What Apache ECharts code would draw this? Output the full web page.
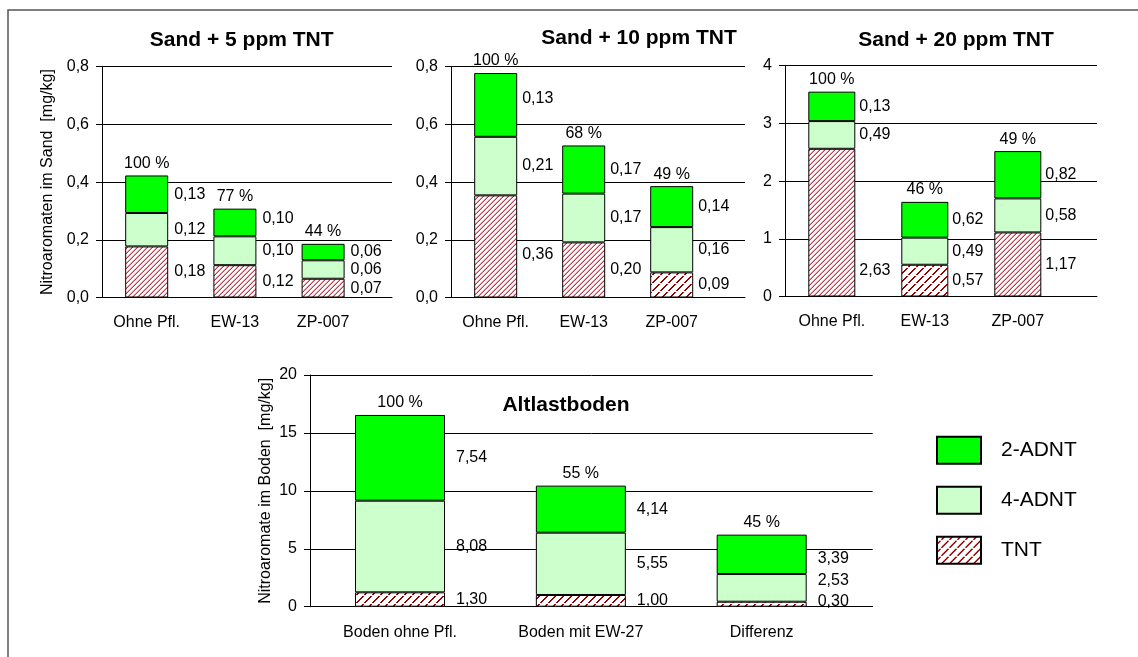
<!DOCTYPE html>
<html>
<head>
<meta charset="utf-8">
<script src="https://cdn.jsdelivr.net/npm/echarts@6/dist/echarts.min.js"></script>
<style>
html,body{margin:0;padding:0;background:#fff;}
#chart{width:1138px;height:657px;}
</style>
</head>
<body>
<div id="chart"></div>
<script>
// ---------------- DATA ----------------
const categoriesSand = ['Ohne Pfl.', 'EW-13', 'ZP-007'];
const categoriesBoden = ['Boden ohne Pfl.', 'Boden mit EW-27', 'Differenz'];
const seriesNames = ['TNT', '4-ADNT', '2-ADNT'];

// Sand + 5 ppm TNT (bar heights as drawn, and printed labels)
const tnt5 = [0.177, 0.112, 0.065];
const adnt4_5 = [0.116, 0.100, 0.064];
const adnt2_5 = [0.130, 0.096, 0.057];
const tnt5Labels = [0.18, 0.12, 0.07];
const adnt4_5Labels = [0.12, 0.10, 0.06];
const adnt2_5Labels = [0.13, 0.10, 0.06];
const pct5 = [100, 77, 44];

// Sand + 10 ppm TNT
const tnt10 = [0.354, 0.191, 0.087];
const adnt4_10 = [0.203, 0.169, 0.157];
const adnt2_10 = [0.221, 0.167, 0.142];
const tnt10Labels = [0.36, 0.20, 0.09];
const adnt4_10Labels = [0.21, 0.17, 0.16];
const adnt2_10Labels = [0.13, 0.17, 0.14];
const pct10 = [100, 68, 49];

// Sand + 20 ppm TNT
const tnt20 = [2.56, 0.55, 1.11];
const adnt4_20 = [0.48, 0.47, 0.59];
const adnt2_20 = [0.51, 0.62, 0.82];
const tnt20Labels = [2.63, 0.57, 1.17];
const adnt4_20Labels = [0.49, 0.49, 0.58];
const adnt2_20Labels = [0.13, 0.62, 0.82];
const pct20 = [100, 46, 49];

// Altlastboden
const tntBoden = [1.24, 1.01, 0.43];
const adnt4Boden = [7.91, 5.38, 2.39];
const adnt2Boden = [7.40, 4.06, 3.40];
const tntBodenLabels = [1.30, 1.00, 0.30];
const adnt4BodenLabels = [8.08, 5.55, 2.53];
const adnt2BodenLabels = [7.54, 4.14, 3.39];
const pctBoden = [100, 55, 45];

// Axis ranges
const yMax = [0.8, 0.8, 4, 20];
const yInterval = [0.2, 0.2, 1, 5];
const yDecimals = [1, 1, 0, 0];
const titles = ['Sand + 5 ppm TNT', 'Sand + 10 ppm TNT', 'Sand + 20 ppm TNT', 'Altlastboden'];
const yNames = ['Nitroaromaten im Sand  [mg/kg]', '', '', 'Nitroaromate im Boden  [mg/kg]'];

// ---------------- STYLE / LAYOUT ----------------
const FONT = '"Liberation Sans", Arial, sans-serif';
const C2 = '#00FF00', C4 = '#CCFFCC';

function makeHatch(size, fn) {
  const c = document.createElement('canvas');
  c.width = size; c.height = size;
  const ctx = c.getContext('2d');
  ctx.fillStyle = '#ffffff';
  ctx.fillRect(0, 0, size, size);
  for (let y = 0; y < size; y++) for (let x = 0; x < size; x++) {
    const col = fn(x, y);
    if (col) { ctx.fillStyle = col; ctx.fillRect(x, y, 1, 1); }
  }
  return c;
}
const denseHatch = { image: makeHatch(5, (x, y) => {
  const k = (x + y) % 5;
  return k === 4 ? '#cc3344' : (k === 3 ? '#eea0a8' : null);
}), repeat: 'repeat' };
const sparseHatch = { image: makeHatch(8, (x, y) => {
  const k = (x + y) % 8;
  if ((k === 7 || k === 6) && (y % 8 !== 3)) return '#990000';
  return null;
}), repeat: 'repeat' };

const panels = [
  { cats: categoriesSand, tnt: tnt5, a4: adnt4_5, a2: adnt2_5, lt: tnt5Labels, l4: adnt4_5Labels, l2: adnt2_5Labels, pct: pct5 },
  { cats: categoriesSand, tnt: tnt10, a4: adnt4_10, a2: adnt2_10, lt: tnt10Labels, l4: adnt4_10Labels, l2: adnt2_10Labels, pct: pct10 },
  { cats: categoriesSand, tnt: tnt20, a4: adnt4_20, a2: adnt2_20, lt: tnt20Labels, l4: adnt4_20Labels, l2: adnt2_20Labels, pct: pct20 },
  { cats: categoriesBoden, tnt: tntBoden, a4: adnt4Boden, a2: adnt2Boden, lt: tntBodenLabels, l4: adnt4BodenLabels, l2: adnt2BodenLabels, pct: pctBoden }
];

const layout = [
  { bg: { left: 102, top: 66.7, width: 290, height: 230.8 }, bar: { left: 102.6, width: 264.6 }, barWidth: 43, dist: 6, title: [241.7, 40], nameGap: 46 },
  { bg: { left: 451, top: 66.7, width: 294, height: 230.8 }, bar: { left: 451.7, width: 264 }, barWidth: 43, dist: 5, title: [639, 38.5] },
  { bg: { left: 785, top: 65.7, width: 312, height: 230.8 }, bar: { left: 785.3, width: 279 }, barWidth: 47, dist: 4, title: [956, 40] },
  { bg: { left: 310, top: 375, width: 562.7, height: 231.7 }, bar: { left: 309.6, width: 542.5 }, barWidth: 90, dist: 11, title: [566, 405], nameGap: 36 }
];
// which TNT bars use the sparse hatch (others use the dense one)
const sparseIdx = [[], [2], [1], [0, 1, 2]];
// label vertical nudges [panel][series 0..2][item]
const labelNudge = {
  '1-0-0': 8, '1-2-0': -6, '2-0-0': 48, '0-2-1': -4,
  '3-2-2': 4, '3-1-2': -7, '3-0-2': -3
};

const fmt = (v, d) => v.toFixed(d).replace('.', ',');

const grid = [], xAxis = [], yAxis = [], series = [], graphic = [];

graphic.push({ type: 'rect', silent: true, z: -10,
  shape: { x: 8, y: 10, width: 1160, height: 680 },
  style: { fill: 'none', stroke: '#555', lineWidth: 1.5 } });

panels.forEach((p, i) => {
  const L = layout[i];
  const bgIdx = 2 * i, barIdx = 2 * i + 1;
  grid.push({ left: L.bg.left, top: L.bg.top, width: L.bg.width, height: L.bg.height, containLabel: false });
  grid.push({ left: L.bar.left, top: L.bg.top, width: L.bar.width, height: L.bg.height, containLabel: false });

  xAxis.push({ gridIndex: bgIdx, type: 'category', data: [''],
    axisLine: { show: true, lineStyle: { color: '#000', width: 1 } },
    axisTick: { show: false }, axisLabel: { show: false }, splitLine: { show: false } });
  xAxis.push({ gridIndex: barIdx, type: 'category', data: p.cats,
    axisLine: { show: false }, axisTick: { show: false },
    axisLabel: { show: true, color: '#000', fontFamily: FONT, fontSize: 16, margin: i === 3 ? 18 : 17 } });

  yAxis.push({ gridIndex: bgIdx, type: 'value', min: 0, max: yMax[i], interval: yInterval[i],
    name: yNames[i], nameLocation: 'middle', nameGap: L.nameGap || 40,
    nameTextStyle: { color: '#000', fontFamily: FONT, fontSize: 16 },
    axisLine: { show: true, lineStyle: { color: '#000', width: 1 } },
    axisTick: { show: true, length: 6, lineStyle: { color: '#000' } },
    axisLabel: { color: '#000', fontFamily: FONT, fontSize: 16, margin: 13,
      formatter: v => fmt(v, yDecimals[i]) },
    splitLine: { show: true, lineStyle: { color: '#000', width: 1 } } });
  yAxis.push({ gridIndex: barIdx, type: 'value', min: 0, max: yMax[i], interval: yInterval[i], show: false,
    splitLine: { show: false } });

  const vals = [p.tnt, p.a4, p.a2];
  const labs = [p.lt, p.l4, p.l2];
  const colors = [sparseHatch, C4, C2];
  for (let s = 0; s < 3; s++) {
    series.push({
      type: 'bar', name: seriesNames[s], stack: 'st' + i,
      xAxisIndex: barIdx, yAxisIndex: barIdx, barWidth: L.barWidth,
      itemStyle: { color: colors[s], borderColor: '#000', borderWidth: 1 },
      label: { show: true, position: 'right', distance: L.dist, color: '#000',
        fontFamily: FONT, fontSize: 16,
        formatter: prm => fmt(labs[s][prm.dataIndex], 2) },
      emphasis: { disabled: true },
      data: vals[s].map((v, k) => {
        const item = { value: v };
        if (s === 0 && sparseIdx[i].indexOf(k) < 0) item.itemStyle = { color: denseHatch };
        const n = labelNudge[i + '-' + s + '-' + k];
        if (n) item.label = { offset: [0, n] };
        return item;
      })
    });
  }
  series.push({
    type: 'bar', name: 'pct' + i, stack: 'st' + i,
    xAxisIndex: barIdx, yAxisIndex: barIdx, barWidth: L.barWidth,
    itemStyle: { color: 'rgba(0,0,0,0)', borderWidth: 0 },
    label: { show: true, position: 'top', distance: 4, color: '#000', fontFamily: FONT, fontSize: 16,
      formatter: prm => p.pct[prm.dataIndex] + ' %' },
    emphasis: { disabled: true },
    data: p.pct.map(() => 0)
  });

  graphic.push({ type: 'text', x: L.title[0], y: L.title[1], silent: true,
    style: { text: titles[i], font: 'bold 21px ' + FONT, fill: '#000', textAlign: 'center', textVerticalAlign: 'middle' } });
});

const option = {
  animation: false,
  backgroundColor: '#fff',
  grid, xAxis, yAxis, series, graphic,
  legend: {
    data: ['2-ADNT', '4-ADNT', 'TNT'],
    orient: 'vertical', left: 936, top: 435.7, padding: 0,
    itemWidth: 44, itemHeight: 27, itemGap: 21, icon: 'rect',
    selectedMode: false,
    textStyle: { color: '#000', fontFamily: FONT, fontSize: 21, padding: [0, 0, 0, 15] }
  }
};

const chart = echarts.init(document.getElementById('chart'), null, { renderer: 'canvas' });
chart.setOption(option);
</script>
</body>
</html>
